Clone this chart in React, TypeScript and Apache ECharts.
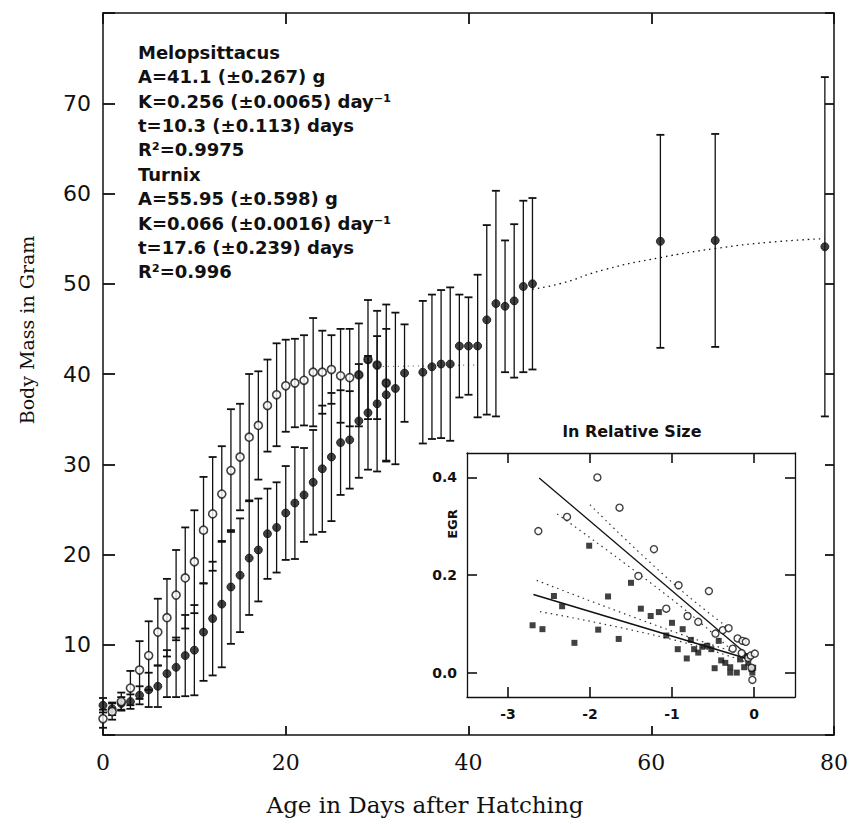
import React, { useEffect, useRef } from "react";
import * as echarts from "echarts";

// ---------- Main panel data (age in days, body mass in g, SD) ----------
const meloDays = [0,1,2,3,4,5,6,7,8,9,10,11,12,13,14,15,16,17,18,19,20,21,22,23,24,25,26,27,28,29,30,31];
const meloMass = [1.8,2.6,3.7,5.2,7.2,8.8,11.4,13.0,15.5,17.4,19.2,22.7,24.5,26.7,29.3,30.8,33.0,34.3,36.5,37.7,38.7,39.0,39.3,40.2,40.2,40.5,39.8,39.6,39.9,41.6,41.0,39.0];
const meloSD = [1.0,0.9,1.0,1.9,3.2,3.8,3.7,4.3,5.0,5.6,5.7,5.9,6.3,5.3,6.8,5.9,7.0,6.0,5.1,5.7,5.1,4.9,5.0,6.0,4.6,3.8,5.2,5.4,5.7,6.6,6.0,8.7];
const meloFilledFrom = 28;

const turnixDays = [0,1,2,3,4,5,6,7,8,9,10,11,12,13,14,15,16,17,18,19,20,21,22,23,24,25,26,27,28,29,30,31,32,33,35,36,37,38,39,40,41,42,43,44,45,46,47,61,67,79];
const turnixMass = [3.3,2.9,3.5,3.7,4.4,5.0,5.4,6.8,7.5,8.8,9.4,11.4,12.9,14.5,16.4,17.7,19.6,20.5,22.3,23.0,24.6,25.7,26.6,28.0,29.5,30.8,32.4,32.7,34.8,35.7,36.7,37.7,38.4,40.1,40.2,40.8,41.1,41.1,43.1,43.1,43.1,46.0,47.8,47.5,48.1,49.7,50.0,54.7,54.8,54.1];
const turnixSD = [0.8,0.7,0.7,0.8,1.0,1.9,2.3,2.6,3.3,4.5,5.0,5.4,6.3,7.0,6.3,6.3,6.3,5.7,5.0,5.0,5.2,6.2,5.2,5.8,7.0,7.1,5.8,5.4,6.3,6.3,7.5,7.3,8.4,5.4,7.9,8.0,8.2,8.5,5.7,5.4,7.9,10.5,12.5,7.3,8.5,9.5,9.5,11.8,11.8,18.8];

// fitted curves (dotted)
const turnixFitDays = [47, 50, 55, 61, 67, 73, 79];
const turnixFitMass = [49.4, 50.0, 51.6, 52.9, 53.9, 54.6, 55.0];
const meloFitDays = [29, 35, 41];
const meloFitMass = [40.8, 40.9, 41.0];

const mainXTicks = [0, 20, 40, 60, 80];
const mainYTicks = [0, 10, 20, 30, 40, 50, 60, 70, 80];
const mainYLabels = [10, 20, 30, 40, 50, 60, 70];

const annotationLines = [
  "Melopsittacus",
  "A=41.1 (±0.267) g",
  "K=0.256 (±0.0065) day⁻¹",
  "t=10.3 (±0.113) days",
  "R²=0.9975",
  "Turnix",
  "A=55.95 (±0.598) g",
  "K=0.066 (±0.0016) day⁻¹",
  "t=17.6 (±0.239) days",
  "R²=0.996",
];

// ---------- Inset data: EGR vs ln relative size ----------
const meloLnSize = [-2.63,-2.28,-1.91,-1.64,-1.41,-1.22,-1.07,-0.92,-0.81,-0.68,-0.55,-0.47,-0.38,-0.31,-0.26,-0.20,-0.14,-0.10,-0.07,-0.04,0.01,-0.03,-0.02,-0.15];
const meloEGR = [0.29,0.319,0.40,0.338,0.198,0.253,0.131,0.179,0.116,0.104,0.167,0.080,0.087,0.091,0.049,0.070,0.065,0.063,0.030,0.035,0.039,0.010,-0.015,0.040];
const turnixLnSize = [-2.70,-2.58,-2.44,-2.34,-2.19,-2.01,-1.90,-1.78,-1.65,-1.50,-1.38,-1.26,-1.16,-1.07,-1.00,-0.93,-0.87,-0.82,-0.77,-0.73,-0.68,-0.63,-0.57,-0.52,-0.48,-0.43,-0.40,-0.35,-0.29,-0.29,-0.21,-0.17,-0.12,-0.09,-0.07,-0.03,-0.02,-0.01];
const turnixEGR = [0.097,0.089,0.157,0.136,0.061,0.260,0.088,0.156,0.069,0.184,0.131,0.116,0.124,0.076,0.102,0.048,0.089,0.029,0.067,0.048,0.041,0.053,0.055,0.048,0.009,0.065,0.025,0.020,0.011,0.0,0.0,0.027,0.011,0.034,0.020,0.007,0.0,0.010];

const meloRegX = [-2.62, -0.05];
const meloRegY = [0.399, 0.032];
const turnixRegX = [-2.69, -0.05];
const turnixRegY = [0.160, 0.027];
const meloUpperX = [-2.0, -1.0, -0.3];
const meloUpperY = [0.344, 0.185, 0.09];
const meloLowerX = [-2.4, -1.0, -0.3];
const meloLowerY = [0.325, 0.15, 0.05];
const turnixUpperX = [-2.65, -1.0, -0.1];
const turnixUpperY = [0.189, 0.085, 0.035];
const turnixLowerX = [-2.61, -1.0, -0.1];
const turnixLowerY = [0.125, 0.068, 0.022];

const insetXTicks = [-3, -2, -1, 0];
const insetYTicks = [0, 0.2, 0.4];

const INK = "#111";

const zip = (a: number[], b: number[]) => a.map((v, i) => [v, b[i]]);

function errorBarSeries(days: number[], mass: number[], sd: number[]) {
  return {
    type: "custom",
    xAxisIndex: 0,
    yAxisIndex: 0,
    encode: { x: 0, y: 1 },
    z: 3,
    data: days.map((d, i) => [d, mass[i], sd[i]]),
    renderItem: (_p: any, api: any) => {
      const x = api.value(0);
      const y = api.value(1);
      const s = api.value(2);
      const top = api.coord([x, y + s]);
      const bot = api.coord([x, y - s]);
      const hw = 4;
      return {
        type: "group",
        children: [
          { type: "line", shape: { x1: top[0], y1: top[1], x2: bot[0], y2: bot[1] }, style: { stroke: INK, lineWidth: 1.3 } },
          { type: "line", shape: { x1: top[0] - hw, y1: top[1], x2: top[0] + hw, y2: top[1] }, style: { stroke: INK, lineWidth: 1.8 } },
          { type: "line", shape: { x1: bot[0] - hw, y1: bot[1], x2: bot[0] + hw, y2: bot[1] }, style: { stroke: INK, lineWidth: 1.8 } },
        ],
      };
    },
  };
}

function frameAxis(grid: number, position: string, min: number, max: number, ticks: number[], tickLen: number, width: number, label: any) {
  return {
    gridIndex: grid, type: "value", position, min, max,
    axisLine: { show: true, onZero: false, lineStyle: { color: INK, width } },
    axisTick: { show: true, inside: true, length: tickLen, customValues: ticks, lineStyle: { color: INK, width: width + 0.3 } },
    axisLabel: label || { show: false },
    splitLine: { show: false },
  };
}

export default function App() {
  const ref = useRef<HTMLDivElement>(null);
  useEffect(() => {
    if (!ref.current) return;
    const chart = echarts.init(ref.current, undefined, { renderer: "svg" });
    const sans = "DejaVu Sans";
    const insetLabel = (vals: number[], fmt: (v: number) => string) => ({
      show: true, color: INK, fontFamily: sans, fontWeight: "bold", fontSize: 14, margin: 10, customValues: vals, formatter: fmt,
    });
    const option: any = {
      animation: false,
      backgroundColor: "#fff",
      grid: [
        { left: 103, right: 19, top: 13, bottom: 90 },
        { left: 467, top: 453, width: 328, height: 244, show: true, borderWidth: 0, backgroundColor: "#fff" },
      ],
      xAxis: [
        frameAxis(0, "bottom", 0, 80, mainXTicks, 9, 1.5, {
          show: true, color: INK, fontFamily: "DejaVu Serif", fontSize: 22, margin: 16, customValues: mainXTicks,
        }),
        frameAxis(0, "top", 0, 80, mainXTicks, 11, 1.5, null),
        frameAxis(1, "bottom", -3.5, 0.5, insetXTicks, 10, 1.3, insetLabel(insetXTicks, (v) => String(v))),
        frameAxis(1, "top", -3.5, 0.5, insetXTicks, 10, 1.3, null),
      ],
      yAxis: [
        frameAxis(0, "left", 0, 80, mainYTicks, 12, 1.5, {
          show: true, color: INK, fontFamily: sans, fontSize: 22, margin: 12, customValues: mainYLabels,
        }),
        frameAxis(0, "right", 0, 80, mainYTicks, 9, 1.5, null),
        frameAxis(1, "left", -0.05, 0.45, insetYTicks, 10, 1.3, insetLabel(insetYTicks, (v) => v.toFixed(1))),
        frameAxis(1, "right", -0.05, 0.45, insetYTicks, 10, 1.3, null),
      ],
      series: [
        errorBarSeries(meloDays, meloMass, meloSD),
        errorBarSeries(turnixDays, turnixMass, turnixSD),
        {
          type: "line", xAxisIndex: 0, yAxisIndex: 0, smooth: true, symbol: "none", z: 2,
          data: zip(turnixFitDays, turnixFitMass),
          lineStyle: { color: INK, width: 1.3, type: [1.5, 4] },
        },
        {
          type: "line", xAxisIndex: 0, yAxisIndex: 0, smooth: true, symbol: "none", z: 2,
          data: zip(meloFitDays, meloFitMass),
          lineStyle: { color: "#555", width: 1, type: [1, 4] },
        },
        {
          type: "scatter", xAxisIndex: 0, yAxisIndex: 0, symbol: "circle", symbolSize: 8, z: 4,
          data: zip(turnixDays, turnixMass),
          itemStyle: { color: INK, borderColor: INK, borderWidth: 1 },
        },
        {
          type: "scatter", xAxisIndex: 0, yAxisIndex: 0, symbol: "circle", symbolSize: 8, z: 5,
          data: meloDays.map((d, i) =>
            d >= meloFilledFrom
              ? { value: [d, meloMass[i]], itemStyle: { color: INK } }
              : { value: [d, meloMass[i]] }
          ),
          itemStyle: { color: "#fff", borderColor: INK, borderWidth: 1.6 },
        },
        // inset
        {
          type: "line", xAxisIndex: 2, yAxisIndex: 2, symbol: "none", z: 6,
          data: zip(meloRegX, meloRegY), lineStyle: { color: INK, width: 1.3 },
        },
        {
          type: "line", xAxisIndex: 2, yAxisIndex: 2, symbol: "none", z: 6,
          data: zip(turnixRegX, turnixRegY), lineStyle: { color: INK, width: 1.5 },
        },
        ...[
          [meloUpperX, meloUpperY], [meloLowerX, meloLowerY],
          [turnixUpperX, turnixUpperY], [turnixLowerX, turnixLowerY],
        ].map(([xs, ys]) => ({
          type: "line", xAxisIndex: 2, yAxisIndex: 2, symbol: "none", smooth: true, z: 6,
          data: zip(xs, ys), lineStyle: { color: "#333", width: 1.2, type: [1.5, 4] },
        })),
        {
          type: "scatter", xAxisIndex: 2, yAxisIndex: 2, symbol: "rect", symbolSize: 6, z: 7,
          data: zip(turnixLnSize, turnixEGR), itemStyle: { color: INK },
        },
        {
          type: "scatter", xAxisIndex: 2, yAxisIndex: 2, symbol: "circle", symbolSize: 7, z: 8,
          data: zip(meloLnSize, meloEGR), itemStyle: { color: "#fff", borderColor: INK, borderWidth: 1.4 },
        },
      ],
      graphic: [
        {
          type: "text", left: 138, top: 40, z: 10,
          style: {
            text: annotationLines.join("\n"),
            fontFamily: "DejaVu Sans", fontWeight: "bold", fontSize: 18, lineHeight: 24.4, fill: INK,
          },
        },
        {
          type: "text", x: 27, y: 330, rotation: Math.PI / 2, z: 10,
          style: { text: "Body Mass in Gram", fontFamily: "DejaVu Serif", fontSize: 19, fill: INK, align: "center", verticalAlign: "middle" },
        },
        {
          type: "text", x: 425, y: 805, z: 10,
          style: { text: "Age in Days after Hatching", fontFamily: "DejaVu Serif", fontSize: 23, fill: INK, align: "center", verticalAlign: "middle" },
        },
        {
          type: "text", x: 632, y: 431, z: 10,
          style: { text: "ln Relative Size", fontFamily: "DejaVu Sans", fontWeight: "bold", fontSize: 16, fill: INK, align: "center", verticalAlign: "middle" },
        },
        {
          type: "text", x: 452, y: 524, rotation: Math.PI / 2, z: 10,
          style: { text: "EGR", fontFamily: "DejaVu Sans", fontWeight: "bold", fontSize: 13, fill: INK, align: "center", verticalAlign: "middle" },
        },
      ],
    };
    chart.setOption(option);
    return () => chart.dispose();
  }, []);
  return (
    <div
      ref={ref}
      style={{ position: "fixed", left: 0, top: 0, width: 853, height: 825, background: "#fff" }}
    />
  );
}
